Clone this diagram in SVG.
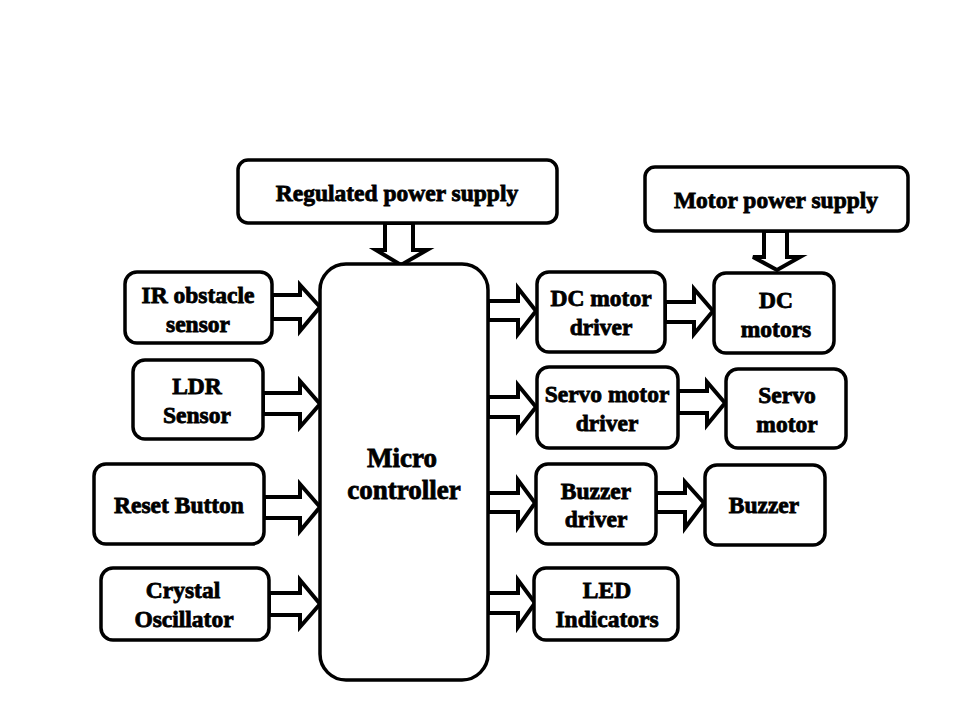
<svg xmlns="http://www.w3.org/2000/svg" width="960" height="720" viewBox="0 0 960 720">
<style>
.box{fill:#fff;stroke:#000;stroke-width:3.5}
.arr{fill:#fff;stroke:#000;stroke-width:4;stroke-linejoin:miter}
text{font-family:"Liberation Serif","Times New Roman",serif;font-weight:bold;font-size:23.5px;text-anchor:middle;fill:#000;stroke:#000;stroke-width:0.8}
.big{font-size:27px}
</style>
<rect width="960" height="720" fill="#fff"/>
<g id="connectors">
<polygon class="arr" points="385,223 413,223 413,250 427,250 401,265 376,250 385,250"/>
<polygon class="arr" points="764,231 787,231 787,257 800,257 777,270 753,257 764,257"/>
<polygon class="arr" points="272,295 300,295 300,285 320,307 300,331 300,319 272,319"/>
<polygon class="arr" points="263,393 300,393 300,381 320,404 300,427 300,414 263,414"/>
<polygon class="arr" points="264,497 300,497 300,484 320,507 300,531 300,518 264,518"/>
<polygon class="arr" points="269,593 300,593 300,580 320,604 300,627 300,615 269,615"/>
<polygon class="arr" points="488,301 518,301 518,288 536,311 518,334 518,320 488,320"/>
<polygon class="arr" points="488,397 518,397 518,385 536,407 518,430 518,417 488,417"/>
<polygon class="arr" points="488,493 518,493 518,480 535,503 518,527 518,512 488,512"/>
<polygon class="arr" points="488,593 518,593 518,580 535,603 518,627 518,613 488,613"/>
<polygon class="arr" points="665,302 694,302 694,289 713,311 694,334 694,322 665,322"/>
<polygon class="arr" points="678,391 707,391 707,382 725,403 707,425 707,413 678,413"/>
<polygon class="arr" points="656,493 685,493 685,482 704,503 685,528 685,512 656,512"/>
</g>
<g id="reg-power"><rect class="box" x="238" y="160" width="319" height="63" rx="10"/><text x="397" y="201">Regulated power supply</text></g>
<g id="motor-power"><rect class="box" x="645" y="167" width="263" height="64" rx="10"/><text x="776" y="208">Motor power supply</text></g>
<g id="micro"><rect class="box" x="320" y="264" width="168" height="416" rx="26"/><text class="big" x="402" y="467">Micro</text><text class="big" x="404" y="499">controller</text></g>
<g id="ir"><rect class="box" x="125" y="272" width="147" height="71" rx="12"/><text x="198" y="303">IR obstacle</text><text x="198" y="332">sensor</text></g>
<g id="ldr"><rect class="box" x="133" y="360" width="130" height="79" rx="12"/><text x="197" y="394">LDR</text><text x="197" y="423">Sensor</text></g>
<g id="reset"><rect class="box" x="94" y="464" width="170" height="80" rx="12"/><text x="179" y="513">Reset Button</text></g>
<g id="crystal"><rect class="box" x="101" y="568" width="168" height="72" rx="12"/><text x="183" y="598">Crystal</text><text x="184" y="627">Oscillator</text></g>
<g id="dc-driver"><rect class="box" x="537" y="272" width="128" height="80" rx="12"/><text x="601" y="306">DC motor</text><text x="601" y="335">driver</text></g>
<g id="dc-motors"><rect class="box" x="714" y="273" width="120" height="80" rx="12"/><text x="776" y="308">DC</text><text x="776" y="337">motors</text></g>
<g id="servo-driver"><rect class="box" x="537" y="367" width="141" height="81" rx="12"/><text x="607" y="402">Servo motor</text><text x="607" y="431">driver</text></g>
<g id="servo-motor"><rect class="box" x="726" y="369" width="120" height="79" rx="12"/><text x="787" y="403">Servo</text><text x="787" y="432">motor</text></g>
<g id="buzzer-driver"><rect class="box" x="536" y="464" width="120" height="80" rx="12"/><text x="596" y="499">Buzzer</text><text x="596" y="527">driver</text></g>
<g id="buzzer"><rect class="box" x="705" y="465" width="120" height="80" rx="12"/><text x="764" y="513">Buzzer</text></g>
<g id="led"><rect class="box" x="534" y="568" width="144" height="72" rx="12"/><text x="607" y="598">LED</text><text x="607" y="627">Indicators</text></g>
</svg>
